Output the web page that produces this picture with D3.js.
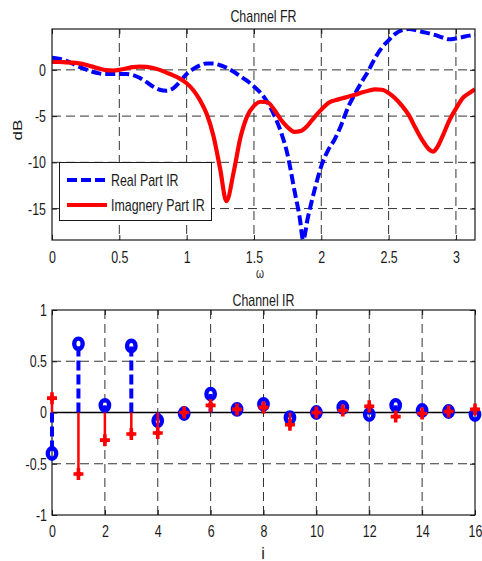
<!DOCTYPE html>
<html>
<head>
<meta charset="utf-8">
<script src="https://cdn.jsdelivr.net/npm/d3@7"></script>
<style>
  html, body { margin: 0; padding: 0; background: #fff; }
  svg { display: block; }
  text { font-family: "Liberation Sans", Arial, sans-serif; fill: #1a1a1a; }
</style>
</head>
<body>
<svg id="chart" width="482" height="561"></svg>
<script>
// ---- Frequency response (dB) ----
const realW  = [0, 0.05, 0.1, 0.15, 0.2, 0.25, 0.3, 0.35, 0.4, 0.45, 0.5, 0.55, 0.6, 0.65, 0.7, 0.75, 0.8, 0.85, 0.9, 0.95,
                1.0, 1.05, 1.1, 1.15, 1.2, 1.25, 1.3, 1.35, 1.4, 1.45, 1.5, 1.55, 1.6, 1.65, 1.7, 1.75, 1.8, 1.84, 1.865,
                1.9, 1.95, 2.0, 2.05, 2.1, 2.15, 2.2, 2.25, 2.3, 2.35, 2.4, 2.45, 2.5, 2.55, 2.6, 2.65, 2.7, 2.75,
                2.8, 2.85, 2.9, 2.95, 3.0, 3.05, 3.1, 3.1416];
const realDb = [1.3, 1.2, 1.0, 0.7, 0.35, 0.05, -0.2, -0.38, -0.45, -0.45, -0.45, -0.45, -0.55, -0.85, -1.3, -1.8, -2.15, -2.25, -2.0, -1.3,
                -0.45, 0.1, 0.5, 0.7, 0.68, 0.5, 0.2, -0.2, -0.7, -1.2, -1.8, -2.5, -3.5, -4.9, -6.7, -9.2, -13.0, -16.0, -18.4,
                -16.0, -13.0, -10.4, -8.7, -7.5, -5.9, -4.0, -2.6, -1.3, -0.1, 1.3, 2.4, 3.2, 3.9, 4.3, 4.42, 4.3, 4.1,
                3.95, 3.75, 3.5, 3.3, 3.4, 3.55, 3.7, 3.8];

const imagW  = [0, 0.05, 0.1, 0.15, 0.2, 0.25, 0.3, 0.35, 0.4, 0.45, 0.5, 0.55, 0.6, 0.65, 0.7, 0.75, 0.8, 0.85, 0.9, 0.95,
                1.0, 1.05, 1.1, 1.15, 1.2, 1.25, 1.295, 1.35, 1.4, 1.45, 1.5, 1.55, 1.6, 1.65, 1.7, 1.75, 1.8, 1.85,
                1.9, 1.95, 2.0, 2.05, 2.1, 2.15, 2.2, 2.25, 2.3, 2.35, 2.4, 2.45, 2.5, 2.55, 2.6, 2.65, 2.7, 2.75,
                2.8, 2.83, 2.86, 2.9, 2.95, 3.0, 3.05, 3.1, 3.1416];
const imagDb = [0.85, 0.85, 0.82, 0.78, 0.7, 0.55, 0.35, 0.15, -0.02, -0.07, 0.0, 0.15, 0.3, 0.36, 0.32, 0.2, 0.0, -0.3, -0.6, -0.95,
                -1.45, -2.2, -3.3, -4.8, -7.2, -10.8, -14.2, -11.0, -7.3, -5.0, -3.9, -3.45, -3.5, -4.3, -5.4, -6.2, -6.7, -6.6,
                -6.0, -5.1, -4.3, -3.6, -3.3, -3.1, -2.9, -2.7, -2.45, -2.25, -2.1, -2.15, -2.5, -3.1, -3.9, -4.9, -6.3, -7.6,
                -8.6, -8.85, -8.4, -7.2, -5.5, -4.2, -3.05, -2.5, -2.1];

const frXTicks = [0, 0.5, 1, 1.5, 2, 2.5, 3];
const frYTicks = [-15, -10, -5, 0];
const frYDomain = [-18.4, 4.42];

// ---- Impulse response taps ----
const taps   = d3.range(0, 17);
const realIR = [-0.40, 0.67, 0.07, 0.65, -0.08, -0.01, 0.18, 0.03, 0.08, -0.05, 0.00, 0.05, -0.02, 0.07, 0.02, 0.01, -0.02];
const imagIR = [0.14, -0.60, -0.27, -0.21, -0.20, 0.00, 0.07, 0.03, 0.05, -0.12, 0.00, 0.02, 0.06, -0.04, -0.01, 0.01, 0.03];
const irXTicks = [0, 2, 4, 6, 8, 10, 12, 14, 16];
const irYTicks = [-1, -0.5, 0, 0.5, 1];

const legendLabels = ["Real Part IR", "Imagnery Part IR"];

const BLUE = "#0000ff", RED = "#ff0000", INK = "#1a1a1a", GRID = "#333";
const FS = 17, SX = 0.73;   // font size and horizontal condensing

const svg = d3.select("#chart");

// condense text horizontally around its anchor point
function squeeze(sel) {
  sel.each(function () {
    const t = d3.select(this);
    const x = +t.attr("x") || 0, y = +t.attr("y") || 0;
    t.attr("transform", `translate(${x},${y}) scale(${SX},1) translate(${-x},${-y})`);
  });
}

function frame(g, box, x, y, xt, yt, clipId) {
  g.append("rect").attr("x", box.left).attr("y", box.top)
    .attr("width", box.right - box.left).attr("height", box.bottom - box.top).attr("fill", "#fff");

  // dashed grid
  const grid = g.append("g").attr("stroke", GRID).attr("stroke-width", 1).attr("stroke-dasharray", "9,5");
  grid.selectAll(".gx").data(xt.filter(v => x(v) > box.left + 1 && x(v) < box.right - 1)).join("line")
    .attr("x1", d => x(d)).attr("x2", d => x(d)).attr("y1", box.top).attr("y2", box.bottom);
  grid.selectAll(".gy").data(yt.filter(v => y(v) > box.top + 1 && y(v) < box.bottom - 1)).join("line")
    .attr("y1", d => y(d)).attr("y2", d => y(d)).attr("x1", box.left).attr("x2", box.right);

  svg.append("clipPath").attr("id", clipId).append("rect")
    .attr("x", box.left).attr("y", box.top).attr("width", box.right - box.left).attr("height", box.bottom - box.top);
}

function axes(g, box, x, y, xt, yt, xPad, yPad) {
  const fmt = d => String(d);
  const ax = g.append("g").attr("transform", `translate(0,${box.bottom})`)
    .call(d3.axisBottom(x).tickValues(xt).tickFormat(fmt).tickSize(-5).tickPadding(xPad));
  const ay = g.append("g").attr("transform", `translate(${box.left},0)`)
    .call(d3.axisLeft(y).tickValues(yt).tickFormat(fmt).tickSize(-5).tickPadding(yPad));
  g.append("g").attr("transform", `translate(0,${box.top})`)
    .call(d3.axisTop(x).tickValues(xt).tickFormat("").tickSize(-5));
  g.append("g").attr("transform", `translate(${box.right},0)`)
    .call(d3.axisRight(y).tickValues(yt).tickFormat("").tickSize(-5));
  g.selectAll(".domain").remove();
  g.selectAll(".tick line").attr("stroke", INK);
  g.selectAll(".tick text").attr("font-size", FS).attr("fill", INK)
    .style("font-family", '"Liberation Sans", Arial, sans-serif');
  squeeze(ax.selectAll(".tick text"));
  squeeze(ay.selectAll(".tick text"));
  g.append("rect").attr("class", "box").attr("x", box.left).attr("y", box.top)
    .attr("width", box.right - box.left).attr("height", box.bottom - box.top)
    .attr("fill", "none").attr("stroke", INK).attr("stroke-width", 1.2);
}

function label(txt, xPos, yPos, size, condense = true) {
  const t = svg.append("text").attr("x", xPos).attr("y", yPos).attr("text-anchor", "middle")
    .attr("font-size", size || FS).text(txt);
  if (condense) squeeze(t);
  return t;
}

// ================= Channel FR =================
const frBox = { left: 52, right: 475, top: 29, bottom: 240 };
const fx = d3.scaleLinear().domain([0, Math.PI]).range([frBox.left, frBox.right]);
const fy = d3.scaleLinear().domain(frYDomain).range([frBox.bottom, frBox.top]);
const gFR = svg.append("g");
frame(gFR, frBox, fx, fy, frXTicks, frYTicks, "clipFR");

const lineFR = d3.line().x(d => fx(d[0])).y(d => fy(d[1])).curve(d3.curveMonotoneX);
const plotFR = gFR.append("g").attr("clip-path", "url(#clipFR)");
plotFR.append("path").datum(d3.zip(realW, realDb)).attr("d", lineFR)
  .attr("fill", "none").attr("stroke", BLUE).attr("stroke-width", 4).attr("stroke-dasharray", "10,4");
plotFR.append("path").datum(d3.zip(imagW, imagDb)).attr("d", lineFR)
  .attr("fill", "none").attr("stroke", RED).attr("stroke-width", 4.2).attr("stroke-linejoin", "round");

axes(gFR, frBox, fx, fy, frXTicks, frYTicks, 11, 6);

label("Channel FR", (frBox.left + frBox.right) / 2, 22.5);
label("\u03c9", 260, 278, 14);
svg.append("text").attr("text-anchor", "middle").attr("font-size", FS)
  .attr("transform", `translate(22,130) rotate(-90) scale(1,${SX})`).text("dB");

// legend
const leg = svg.append("g");
leg.append("rect").attr("x", 59.5).attr("y", 162.5).attr("width", 152).attr("height", 58)
  .attr("fill", "#fff").attr("stroke", INK).attr("stroke-width", 1);
const legItems = [
  { label: legendLabels[0], color: BLUE, dash: "10,4", y: 180 },
  { label: legendLabels[1], color: RED, dash: null, y: 205 }
];
legItems.forEach(it => {
  leg.append("line").attr("x1", 67).attr("x2", 107).attr("y1", it.y).attr("y2", it.y)
    .attr("stroke", it.color).attr("stroke-width", 4.2).attr("stroke-dasharray", it.dash);
  const t = leg.append("text").attr("x", 111).attr("y", it.y + 6).attr("font-size", FS).text(it.label);
  squeeze(t);
});

// ================= Channel IR =================
const irBox = { left: 52, right: 475, top: 310, bottom: 515 };
const ix = d3.scaleLinear().domain([0, 16]).range([irBox.left, irBox.right]);
const iy = d3.scaleLinear().domain([-1, 1]).range([irBox.bottom, irBox.top]);
const gIR = svg.append("g");
frame(gIR, irBox, ix, iy, irXTicks, irYTicks, "clipIR");

const plotIR = gIR.append("g").attr("clip-path", "url(#clipIR)");
// baseline
plotIR.append("line").attr("x1", irBox.left).attr("x2", irBox.right)
  .attr("y1", iy(0)).attr("y2", iy(0)).attr("stroke", "#000").attr("stroke-width", 1.5);

axes(gIR, irBox, ix, iy, irXTicks, irYTicks, 10, 5);

const irG = svg.append("g");
// real part stems + circles
irG.selectAll(".rs").data(taps).join("line")
  .attr("x1", d => ix(d)).attr("x2", d => ix(d)).attr("y1", iy(0)).attr("y2", d => iy(realIR[d]))
  .attr("stroke", BLUE).attr("stroke-width", 4).attr("stroke-dasharray", "10,4");
irG.selectAll(".rm").data(taps).join("ellipse")
  .attr("cx", d => ix(d)).attr("cy", d => iy(realIR[d])).attr("rx", 4.2).attr("ry", 5.2)
  .attr("fill", "none").attr("stroke", BLUE).attr("stroke-width", 4.4);
// imaginary part stems + plus markers
irG.selectAll(".is").data(taps).join("line")
  .attr("x1", d => ix(d)).attr("x2", d => ix(d)).attr("y1", iy(0)).attr("y2", d => iy(imagIR[d]))
  .attr("stroke", RED).attr("stroke-width", 2.5);
irG.selectAll(".im").data(taps).join("path")
  .attr("transform", d => `translate(${ix(d)},${iy(imagIR[d])})`)
  .attr("d", "M-5,0H5M0,-6V6")
  .attr("fill", "none").attr("stroke", RED).attr("stroke-width", 3.6);
irG.selectAll(".ic").data(taps).join("circle")
  .attr("cx", d => ix(d)).attr("cy", d => iy(imagIR[d])).attr("r", 2.8).attr("fill", RED);

label("Channel IR", (irBox.left + irBox.right) / 2, 306);
label("i", 263, 559, 16, false);
</script>
</body>
</html>
